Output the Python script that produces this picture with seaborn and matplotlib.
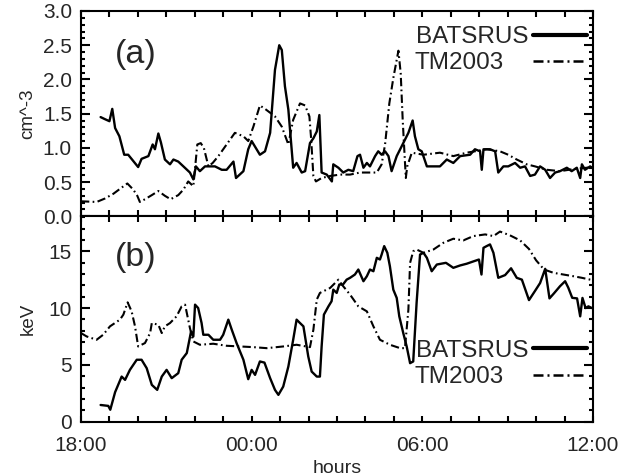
import matplotlib
matplotlib.use("Agg")
import matplotlib.pyplot as plt
from matplotlib.lines import Line2D
from matplotlib.legend import Legend
from matplotlib.ticker import MultipleLocator, FormatStrFormatter
import seaborn as sns
import pandas as pd

# ---------------- data (hours since 18:00) ----------------
bats_n_t = [0.69, 0.84, 1.00, 1.10, 1.20, 1.35, 1.52, 1.66, 2.01, 2.13, 2.37, 2.52, 2.60, 2.72, 2.81,
            2.95, 3.13, 3.25, 3.42, 3.60, 3.83, 3.95, 4.04, 4.18, 4.36, 4.71, 4.95, 5.12, 5.36, 5.45,
            5.71, 5.88, 6.00, 6.29, 6.47, 6.65, 6.82, 6.97, 7.06, 7.17, 7.29, 7.46, 7.58, 7.76, 7.88,
            8.05, 8.17, 8.29, 8.38, 8.46, 8.64, 8.82, 8.87, 9.05, 9.22, 9.40, 9.57, 9.72, 9.81, 9.93,
            10.05, 10.16, 10.34, 10.45, 10.57, 10.69, 10.81, 10.92, 11.10, 11.33, 11.51, 11.66, 11.74,
            11.86, 11.98, 12.16, 12.39, 12.62, 12.86, 13.09, 13.33, 13.68, 13.85, 14.03, 14.09, 14.15,
            14.38, 14.56, 14.67, 14.85, 15.02, 15.26, 15.44, 15.61, 15.79, 15.96, 16.14, 16.32, 16.49,
            16.67, 16.84, 17.08, 17.25, 17.43, 17.55, 17.61, 17.72, 17.90, 18.0]
bats_n = [1.45, 1.42, 1.39, 1.57, 1.29, 1.17, 0.90, 0.90, 0.72, 0.84, 0.88, 1.05, 0.98, 1.21, 1.08,
          0.83, 0.76, 0.83, 0.80, 0.73, 0.64, 0.54, 0.73, 0.66, 0.73, 0.73, 0.68, 0.68, 0.80, 0.56,
          0.66, 0.98, 1.10, 0.90, 0.95, 1.22, 2.14, 2.50, 2.43, 1.90, 1.56, 0.71, 0.78, 0.64, 0.66,
          1.07, 1.14, 1.24, 1.48, 0.64, 0.61, 0.51, 0.76, 0.71, 0.64, 0.68, 0.66, 0.88, 0.90, 0.71,
          0.78, 0.73, 0.88, 0.95, 0.90, 0.95, 0.88, 0.66, 0.88, 1.07, 1.22, 1.40, 1.17,
          0.98, 0.95, 0.73, 0.73, 0.73, 0.83, 0.78, 0.88, 0.90, 0.98, 0.95, 0.68, 0.98,
          0.98, 0.95, 0.64, 0.73, 0.73, 0.78, 0.71, 0.73, 0.59, 0.61, 0.73, 0.68, 0.56,
          0.64, 0.66, 0.71, 0.66, 0.71, 0.56, 0.76, 0.68, 0.73, 0.70]

tm_n_t = [0.0, 0.55, 0.84, 1.14, 1.43, 1.63, 1.84, 1.98, 2.07, 2.25, 2.49, 2.72, 2.95, 3.15, 3.42,
          3.60, 3.77, 3.95, 4.09, 4.21, 4.32, 4.48, 4.63, 4.83, 5.12, 5.41, 5.71, 5.88, 6.06, 6.29,
          6.47, 6.82, 7.06, 7.29, 7.46, 7.70, 7.88, 8.03, 8.09, 8.17, 8.26, 8.46, 8.76, 9.11, 9.46,
          9.81, 10.16, 10.40, 10.57, 10.69, 10.84, 10.98, 11.16, 11.24, 11.31, 11.36, 11.42, 11.47,
          11.63, 12.04, 12.62, 13.09, 13.56, 14.27, 14.73, 15.02, 15.32, 15.67, 15.96, 16.38, 16.84,
          17.31, 17.78, 18.0]
tm_n = [0.22, 0.21, 0.26, 0.33, 0.42, 0.48, 0.39, 0.30, 0.21, 0.25, 0.31, 0.37, 0.30, 0.25, 0.31,
        0.39, 0.51, 0.44, 1.05, 1.07, 1.00, 0.73, 0.78, 0.88, 1.05, 1.22, 1.17, 1.10, 1.31, 1.62,
        1.57, 1.46, 1.31, 1.05, 1.41, 1.65, 1.62, 1.46, 1.14, 0.59, 0.51, 0.56, 0.59, 0.61, 0.61,
        0.64, 0.64, 0.64, 0.76, 1.05, 1.65, 2.02, 2.42, 2.09, 1.41, 1.02, 0.56, 0.73,
        0.93, 0.90, 0.93, 0.88, 0.93, 0.98, 0.95, 0.90, 0.83, 0.76, 0.73, 0.68, 0.66,
        0.69, 0.71, 0.72]

bats_t_t = [0.69, 0.96, 1.03, 1.20, 1.43, 1.55, 1.72, 1.96, 2.13, 2.31,
            2.49, 2.68, 2.84, 3.01, 3.19, 3.42, 3.54, 3.72, 3.87, 3.95,
            4.01, 4.12, 4.24, 4.30, 4.48, 4.65, 4.89, 5.00, 5.18, 5.30,
            5.47, 5.71, 5.88, 6.00, 6.12, 6.29, 6.45, 6.65, 6.82, 6.94,
            7.11, 7.29, 7.46, 7.58, 7.70, 7.82, 7.99, 8.11, 8.29, 8.40,
            8.46, 8.54, 8.70, 8.81, 8.87, 8.99, 9.08, 9.21, 9.34, 9.46,
            9.63, 9.75, 9.93, 10.05, 10.16, 10.28, 10.40, 10.51, 10.57, 10.66,
            10.77, 10.86, 10.98, 11.10, 11.19, 11.33, 11.45, 11.57, 11.68, 11.80,
            11.92, 12.04, 12.16, 12.33, 12.51, 12.83, 13.09, 13.33, 13.56, 13.79,
            13.99, 14.08, 14.15, 14.26, 14.38, 14.50, 14.67, 14.91, 15.12, 15.32,
            15.50, 15.75, 15.96, 16.14, 16.32, 16.47, 16.63, 16.84, 17.02, 17.13,
            17.27, 17.44, 17.55, 17.63, 17.74, 17.84, 17.96]
bats_t = [1.47, 1.39, 1.05, 2.6, 3.97, 3.68, 4.56, 5.45, 5.45, 4.71,
          3.24, 2.8, 3.97, 4.56, 3.83, 4.27, 5.45, 6.04, 7.94, 7.5,
          10.3, 10.0, 8.68, 7.65, 7.65, 7.21, 7.21, 7.65, 8.98, 8.1,
          6.92, 5.45, 3.74, 4.56, 4.12, 5.30, 5.2, 3.83, 2.8, 2.36,
          3.09, 4.85, 7.21, 8.98, 8.68, 8.39, 5.74, 4.41, 3.97, 3.97,
          6.62, 9.42, 10.15, 10.6, 11.62, 11.33, 12.07, 12.07, 12.5, 12.66,
          12.95, 13.39, 12.36, 12.8, 13.39, 13.24, 14.42, 14.27, 14.71, 15.45,
          14.86, 13.68, 11.62, 10.89, 9.27, 7.8, 6.62, 5.15, 5.3, 10.5,
          14.71, 14.86, 14.42, 13.24, 13.83, 13.98, 13.54, 13.75, 13.9, 14.1,
          14.27, 12.95, 15.3, 15.45, 15.6, 14.86, 12.66, 12.9, 13.5, 12.66,
          12.5, 10.7, 11.5, 12.2, 13.45, 10.85, 11.3, 11.92, 12.36, 11.8,
          10.9, 10.85, 9.27, 10.89, 10.0, 10.15, 10.0]

tm_t_t = [0.0, 0.20, 0.55, 0.78, 1.02, 1.37, 1.49, 1.64, 1.78, 1.90,
          2.01, 2.25, 2.43, 2.49, 2.72, 2.84, 2.95, 3.13, 3.36, 3.54,
          3.66, 3.72, 3.83, 3.95, 4.18, 4.65, 5.12, 5.59, 6.06, 6.53,
          7.11, 7.58, 8.05, 8.17, 8.29, 8.40, 8.76, 9.05, 9.17, 9.46,
          9.75, 10.05, 10.28, 10.51, 10.86, 11.22, 11.39, 11.51, 11.57, 11.68,
          11.80, 12.04, 12.39, 12.74, 13.09, 13.44, 13.79, 14.21, 14.50, 14.73,
          15.08, 15.44, 15.75, 16.00, 16.28, 16.61, 16.96, 17.31, 17.61, 17.90, 18.0]
tm_t = [7.8, 7.5, 7.21, 7.65, 8.39, 8.98, 9.42, 10.5, 9.71, 8.39,
        6.62, 6.92, 7.8, 8.68, 8.53, 7.8, 8.39, 8.68, 9.27, 10.15,
        10.3, 9.57, 8.24, 7.06, 6.77, 6.86, 6.68, 6.62, 6.56, 6.47,
        6.62, 6.77, 6.56, 8.09, 10.75, 11.33, 11.77, 12.5, 12.07, 11.18,
        10.15, 9.71, 8.39, 7.21, 6.77, 6.47, 6.47, 9.86, 13.98, 15.0,
        15.15, 14.86, 15.15, 15.74, 16.1, 15.95, 16.33, 16.48, 16.33, 16.73,
        16.4, 15.95, 15.2, 14.2, 13.39, 13.1, 12.95, 12.8, 12.66, 12.5, 12.45]

series_names = ["BATSRUS", "TM2003"]
tick_hours = [0, 6, 12, 18]
tick_labels = ["18:00", "00:00", "06:00", "12:00"]
panel_labels = ["(a)", "(b)"]
y_labels = ["cm^-3", "keV"]

# ---------------- style ----------------
sns.set_style("ticks")
plt.rcParams["font.family"] = ["Liberation Sans", "DejaVu Sans"]
plt.rcParams["axes.linewidth"] = 1.5

DASHDOT = (0, (4.0, 1.6, 0.8, 1.6))

fig, (ax1, ax2) = plt.subplots(2, 1, figsize=(6.21, 4.76), dpi=100, sharex=True)
fig.subplots_adjust(left=0.1304, right=0.9549, top=0.9769, bottom=0.1141, hspace=0)

df_n_b = pd.DataFrame({"t": bats_n_t, "v": bats_n})
df_n_m = pd.DataFrame({"t": tm_n_t, "v": tm_n})
df_t_b = pd.DataFrame({"t": bats_t_t, "v": bats_t})
df_t_m = pd.DataFrame({"t": tm_t_t, "v": tm_t})

for ax, dfb, dfm in ((ax1, df_n_b, df_n_m), (ax2, df_t_b, df_t_m)):
    sns.lineplot(data=dfm, x="t", y="v", ax=ax, color="black", lw=1.5,
                 linestyle=DASHDOT, estimator=None, sort=False)
    sns.lineplot(data=dfb, x="t", y="v", ax=ax, color="black", lw=1.7,
                 estimator=None, sort=False)

ax1.set_ylim(0, 3.0)
ax2.set_ylim(0, 18.07)
ax2.set_xlim(0, 18)

ax1.yaxis.set_major_locator(MultipleLocator(0.5))
ax1.yaxis.set_minor_locator(MultipleLocator(0.1))
ax1.yaxis.set_major_formatter(FormatStrFormatter("%.1f"))
ax2.yaxis.set_major_locator(MultipleLocator(5))
ax2.yaxis.set_minor_locator(MultipleLocator(1))
ax2.set_xticks(tick_hours)
ax2.set_xticklabels(tick_labels)
ax2.xaxis.set_minor_locator(MultipleLocator(1))

for ax in (ax1, ax2):
    ax.tick_params(which="both", direction="in", top=True, right=True,
                   bottom=True, left=True, labelsize=15, width=1.5, color="black")
    ax.tick_params(axis="x", which="both", length=4.0, pad=10)
    ax.tick_params(axis="y", which="major", length=6.5, pad=6.5)
    ax.tick_params(axis="y", which="minor", length=3.2)
    for s in ax.spines.values():
        s.set_linewidth(1.5)
        s.set_color("black")
ax1.tick_params(axis="x", labelbottom=False)

ax1.set_xlabel("")
ax2.set_xlabel("hours", fontsize=14, labelpad=4)
ax1.set_ylabel(y_labels[0], fontsize=13.5)
ax2.set_ylabel(y_labels[1], fontsize=13.5)
ax1.yaxis.set_label_coords(-0.087, 0.5)
ax2.yaxis.set_label_coords(-0.087, 0.5)

ax1.text(0.066, 0.786, panel_labels[0], transform=ax1.transAxes, fontsize=24.5,
         ha="left", va="center")
ax2.text(0.066, 0.80, panel_labels[1], transform=ax2.transAxes, fontsize=24.5,
         ha="left", va="center")

# legend keys
def add_key(ax, label, handle, top, pad):
    leg = Legend(ax, [handle], [label], loc="upper right", bbox_to_anchor=(0.988, top),
                 bbox_transform=ax.transAxes, frameon=False, markerfirst=False,
                 handlelength=2.22, handletextpad=pad, borderpad=0, borderaxespad=0,
                 fontsize=17.5)
    ax.add_artist(leg)

h_b = Line2D([], [], color="black", lw=3.0)
h_m = Line2D([], [], color="black", lw=1.8, linestyle=DASHDOT)
add_key(ax1, series_names[0], h_b, 0.925, 0.2)
add_key(ax1, series_names[1], h_m, 0.80, 1.2)
add_key(ax2, series_names[0], h_b, 0.40, 0.2)
add_key(ax2, series_names[1], h_m, 0.27, 1.2)

fig.savefig("out.png", dpi=100)
